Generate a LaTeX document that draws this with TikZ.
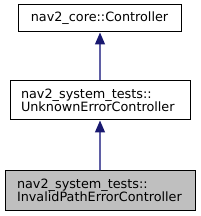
\documentclass[tikz,border=0pt]{standalone}
\usepackage{fontspec}
\usepackage{tikz}
\usetikzlibrary{arrows.meta,positioning}
\newfontfamily\dvsans{DejaVu Sans}
\definecolor{edgeblue}{RGB}{95,95,165}
\definecolor{headblue}{RGB}{25,25,112}
\definecolor{softgray}{RGB}{191,191,191}
\tikzset{
  block/.style={rectangle, draw=black, line width=0.75pt, fill=white,
                inner sep=0pt, font=\dvsans\fontsize{9.6}{9.75}\selectfont},
  blockone/.style={block, minimum width=122.25pt, minimum height=20.25pt, align=center},
  blocktwo/.style={block, minimum height=29.25pt, align=left},
  blockgray/.style={blocktwo, fill=softgray},
  arrow/.style={{Triangle[length=9pt, width=7.5pt, fill=headblue, color=headblue]}-,
                line width=0.9pt, edgeblue},
}
\begin{document}
\begin{tikzpicture}[x=0.75pt, y=-0.75pt]
\useasboundingbox (0,0) rectangle (200,216);
\node[blockone] (base) at (99.5,18.5) {nav2\_core::Controller};
\node[blocktwo, minimum width=135pt, text width=118.5pt] (unknown) at (100,100.5)
  {nav2\_system\_tests::\\UnknownErrorController};
\node[blockgray, minimum width=142.5pt, minimum height=30pt, text width=124.5pt] (invalid) at (100,190)
  {nav2\_system\_tests::\\InvalidPathErrorController};
\foreach \a/\b in {base/unknown, unknown/invalid}
  \draw[arrow] (\a.south -| 100,0) -- (\b.north -| 100,0);
\end{tikzpicture}
\end{document}
